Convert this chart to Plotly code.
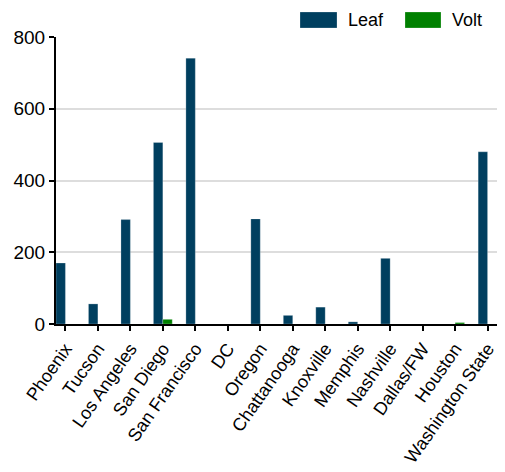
import plotly.graph_objects as go

cities = ["Phoenix", "Tucson", "Los Angeles", "San Diego", "San Francisco", "DC",
          "Oregon", "Chattanooga", "Knoxville", "Memphis", "Nashville", "Dallas/FW",
          "Houston", "Washington State"]
leaf = [170, 56, 291, 506, 741, 0, 293, 24, 47, 6, 183, 0, 0, 480]
volt = [0, 0, 0, 13, 0, 0, 0, 0, 0, 0, 0, 0, 4, 0]
y_ticks = [0, 200, 400, 600, 800]

LEAF_C = "#003f5f"
VOLT_C = "#008000"
FONT = "Arial, Liberation Sans, sans-serif"

fig = go.Figure()
fig.add_trace(go.Bar(name="Leaf", x=cities, y=leaf, marker_color=LEAF_C,
                     marker_line=dict(color="rgba(255,255,255,0.4)", width=0.6)))
fig.add_trace(go.Bar(name="Volt", x=cities, y=volt, marker_color=VOLT_C,
                     marker_line=dict(color="rgba(255,255,255,0.4)", width=0.6)))

# page body has an 8px default margin, so the figure is sized to fit inside it
fig.update_layout(
    width=497, height=464,
    margin=dict(l=48, r=8, t=29, b=148, autoexpand=False),
    barmode="group", bargap=0.42, bargroupgap=0,
    plot_bgcolor="white", paper_bgcolor="white",
    showlegend=False,
    font=dict(family=FONT, size=18, color="black"),
    xaxis=dict(range=[-0.29, 13.29], tickangle=-55, showline=True, linecolor="black",
               linewidth=2, ticks="outside", ticklen=5, tickwidth=2, tickcolor="black",
               showgrid=False, automargin=False, tickfont=dict(size=18, family=FONT)),
    yaxis=dict(range=[0, 800], tickvals=y_ticks, showline=True, linecolor="black",
               linewidth=2, ticks="outside", ticklen=5, tickwidth=2, tickcolor="black",
               showgrid=True, gridcolor="#dddddd", gridwidth=2, zeroline=False,
               automargin=False, tickfont=dict(size=19, family=FONT)),
)

# legend drawn as swatches + labels above the plot area
legend_items = [("Leaf", LEAF_C, 0.5533, 0.6372, 0.6576),
                ("Volt", VOLT_C, 0.7914, 0.8730, 0.8934)]
for name, col, x0, x1, xt in legend_items:
    fig.add_shape(type="rect", xref="paper", yref="paper", x0=x0, x1=x1,
                  y0=1.0314, y1=1.0871, fillcolor=col,
                  line=dict(color="rgba(255,255,255,0.4)", width=0.6))
    fig.add_annotation(xref="paper", yref="paper", x=xt, y=1.059, text=name,
                       showarrow=False, xanchor="left", yanchor="middle",
                       font=dict(size=18, family=FONT, color="black"))

fig.write_html("out.html")
